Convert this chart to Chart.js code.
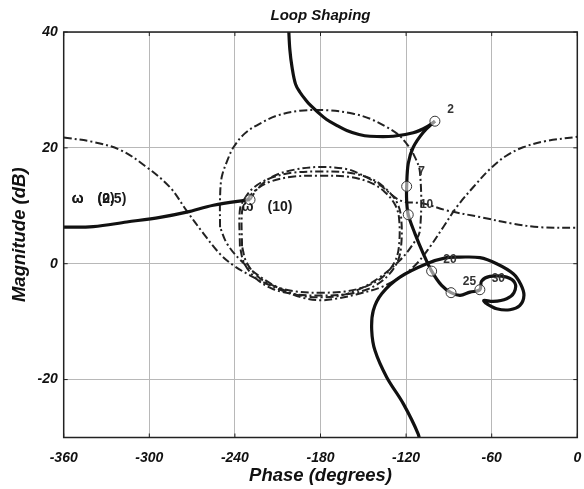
<!DOCTYPE html>
<html>
<head>
<meta charset="utf-8">
<script src="https://cdn.jsdelivr.net/npm/chart.js@4.4.1/dist/chart.umd.min.js"></script>
<style>
  html, body { margin: 0; padding: 0; background: #fff; }
</style>
</head>
<body>
<canvas id="nichols" width="584" height="489"></canvas>
<script>
// axis ticks
const phaseTicks = [-360, -300, -240, -180, -120, -60, 0];
const magTicks = [-20, 0, 20, 40];

// open loop, low frequency branch (left)
const lowPhase = [-360, -339.3, -315.8, -292.5, -273.8, -255.1, -229.4];
const lowMag = [6.3, 6.4, 7.2, 8.0, 8.9, 10.1, 11.05];

// open loop, from the top down to marker "2"
const topPhase = [-202.3, -201.5, -200, -197.5, -194.4, -190.5, -187.3, -182, -175.7, -168, -161.6, -153, -145.3, -129.0, -115.0, -105.6, -99.8];
const topMag = [40.5, 37, 34, 31, 29.6, 28.3, 27.4, 26.2, 24.9, 23.8, 23.0, 22.3, 22.0, 22.0, 22.6, 23.6, 24.6];

// open loop, from marker "2" through the loops to the bottom
const highPhase = [-99.8, -107.9, -115.0, -118.5, -119.6, -119.6, -118.5, -113.8, -107.9, -102.1, -95.1, -88.5, -82.2, -75.2, -68.3,
  -67.1, -61.3, -49.5, -43.7, -44.4, -49.5, -58.9, -65.5, -63.5, -56.5, -47.3, -40.2, -37.4, -39.6, -44.9, -56.5, -68.3, -82.2,
  -91.6, -105.6, -124.3, -137.1, -143.0, -144.1, -141.8, -133.6, -121.9, -111.5, -110.3];
const highMag = [24.6, 22.7, 20.1, 17.3, 13.35, 10.9, 8.46, 5.2, 1.7, -1.28, -3.75, -5.0, -5.47, -4.9, -4.49,
  -3.0, -2.19, -2.31, -3.35, -5.01, -6.04, -6.51, -6.34, -6.9, -7.77, -7.94, -7.2, -5.47, -3.58, -1.73, 0, 1.04, 1.14,
  1.04, 0, -2.31, -5.18, -8.07, -11.5, -15.0, -19.6, -24.2, -29.4, -31];

// frequency markers
const markPhase = [-99.8, -119.6, -118.5, -102.1, -88.5, -68.3, -229.4];
const markMag = [24.6, 13.35, 8.46, -1.28, -5.0, -4.49, 11.05];

// outer bound (open, both sides)
const boundPhase = [-360, -339, -320, -302, -285.5, -274, -262, -250.5, -241, -229.5, -217.5, -204, -192, -180,
  -168, -155, -138, -124, -112.6, -103.3, -94, -84.5, -73, -61, -50, -38, -21.5, 0];
const boundMag = [21.8, 21.0, 19.6, 16.7, 13.2, 9.2, 5.2, 1.7, -0.3, -2.0, -3.5, -4.9, -5.9, -6.3,
  -6.0, -5.3, -4.1, -2.3, 0, 2.9, 6.3, 9.8, 13.2, 16.4, 18.6, 20.1, 21.2, 21.9];

// large closed contour
const outerPhase = [-250.4, -250.4, -249.2, -245, -241, -233, -222.4, -210, -194.4, -176, -157, -145, -133.6, -125, -119.6, -115,
  -110.3, -110.3, -115, -124.3, -138.3, -152, -166, -180, -194, -208, -222, -236, -245.5, -250.4];
const outerMag = [6.3, 11.5, 15.0, 18.0, 20.1, 22.5, 24.2, 25.6, 26.4, 26.5, 25.9, 25.0, 23.6, 22.2, 20.7, 19.0,
  15.8, 5.75, 3.45, 0.6, -2.3, -4.3, -5.5, -5.8, -5.5, -4.3, -2.3, 0.6, 3.45, 6.3];

// inner closed contours
const in1Phase = [-235, -235, -232, -226, -216, -200, -180, -160, -145, -135, -128, -125, -125, -128, -136, -148, -163, -180, -197, -212, -224, -232, -235];
const in1Mag = [3.0, 9.0, 10.8, 12.6, 14.1, 15.0, 15.2, 15.0, 14.0, 12.4, 10.3, 8.0, 3.0, 0.3, -2.2, -3.9, -4.8, -5.0, -4.8, -3.9, -2.2, 0.3, 3.0];
const in2Phase = [-236.5, -236.5, -233, -227, -216, -200, -180, -160, -144, -134, -126.5, -123.5, -123.5, -126.5, -135, -147, -163, -180, -197, -213, -225, -233.5, -236.5];
const in2Mag = [3.0, 9.3, 11.3, 13.1, 14.7, 15.7, 15.9, 15.7, 14.6, 12.9, 10.6, 8.0, 3.0, 0.1, -2.6, -4.4, -5.3, -5.5, -5.3, -4.4, -2.6, 0.1, 3.0];

// open contour running off to the right
const in3Phase = [-229.4, -224, -214, -199, -180, -161, -150, -138, -124, -108, -91.5, -68, -45, -26, 0];
const in3Mag = [11.0, 13.0, 15.0, 16.2, 16.7, 16.3, 15.2, 13.5, 10.9, 10.4, 9.2, 8.05, 6.9, 6.3, 6.2];

// text labels
const labelText = ['2', '7', '10', '20', '25', '30', 'ω\u2002\u2002(0.5)', 'ω\u2002\u2002(2)', 'ω\u2002\u2002(10)'];
const labelPhase = [-91.2, -111.4, -110.3, -93.9, -80.3, -60, -354.4, -354.4, -235.2];
const labelMag = [26.6, 15.8, 10.2, 0.7, -3.06, -2.6, 11.2, 11.2, 9.7];
const labelBig = [false, false, false, false, false, false, true, true, true];

const FONT = "'Liberation Sans', Arial, sans-serif";

function pts(xs, ys) {
    return xs.map((x, i) => ({ x: x, y: ys[i] }));
}

function solid(xs, ys) {
    return {
        data: pts(xs, ys),
        showLine: true,
        borderColor: '#111',
        borderWidth: 3.2,
        pointRadius: 0,
        tension: 0.35,
        fill: false,
    };
}

function dashDot(xs, ys) {
    return {
        data: pts(xs, ys),
        showLine: true,
        borderColor: '#222',
        borderWidth: 2,
        borderDash: [8, 3, 2, 3],
        pointRadius: 0,
        tension: 0.35,
        fill: false,
    };
}

// box with little inward ticks
const frame = {
    id: 'frame',
    afterDatasetsDraw(chart) {
        const { ctx, chartArea: a, scales } = chart;
        ctx.save();
        ctx.strokeStyle = '#222';
        ctx.lineWidth = 1.5;
        ctx.strokeRect(a.left, a.top, a.right - a.left, a.bottom - a.top);
        ctx.lineWidth = 1;
        ctx.beginPath();
        phaseTicks.forEach(v => {
            const x = scales.x.getPixelForValue(v);
            ctx.moveTo(x, a.top); ctx.lineTo(x, a.top + 4);
            ctx.moveTo(x, a.bottom); ctx.lineTo(x, a.bottom - 4);
        });
        magTicks.forEach(v => {
            const y = scales.y.getPixelForValue(v);
            ctx.moveTo(a.left, y); ctx.lineTo(a.left + 4, y);
            ctx.moveTo(a.right, y); ctx.lineTo(a.right - 4, y);
        });
        ctx.stroke();
        ctx.restore();
    }
};

// frequency labels
const freqLabels = {
    id: 'freqLabels',
    afterDatasetsDraw(chart) {
        const { ctx, scales } = chart;
        ctx.save();
        ctx.textAlign = 'left';
        ctx.textBaseline = 'middle';
        labelText.forEach((t, i) => {
            ctx.font = labelBig[i] ? `bold 14px ${FONT}` : `bold 12px ${FONT}`;
            ctx.fillStyle = labelBig[i] ? '#1a1a1a' : '#333';
            ctx.fillText(t, scales.x.getPixelForValue(labelPhase[i]), scales.y.getPixelForValue(labelMag[i]));
        });
        ctx.restore();
    }
};

const markers = {
    data: pts(markPhase, markMag),
    showLine: false,
    pointStyle: 'circle',
    pointRadius: 5,
    pointBorderWidth: 1,
    pointBorderColor: '#333',
    pointBackgroundColor: 'rgba(255,255,255,0.55)',
};

new Chart(document.getElementById('nichols'), {
    type: 'scatter',
    data: {
        datasets: [
            markers,
            solid(highPhase, highMag),
            solid(topPhase, topMag),
            solid(lowPhase, lowMag),
            dashDot(outerPhase, outerMag),
            dashDot(in1Phase, in1Mag),
            dashDot(in2Phase, in2Mag),
            dashDot(in3Phase, in3Mag),
            dashDot(boundPhase, boundMag),
        ],
    },
    options: {
        responsive: false,
        animation: false,
        devicePixelRatio: 1,
        layout: { padding: { left: 0, right: 6.7, top: 0, bottom: 0 } },
        plugins: {
            legend: { display: false },
            tooltip: { enabled: false },
            title: {
                display: true,
                fullSize: false,
                text: 'Loop Shaping',
                color: '#111',
                font: { family: FONT, size: 15, weight: 'bold', style: 'italic' },
                padding: { top: 7, bottom: 7 },
            },
        },
        scales: {
            x: {
                type: 'linear',
                min: -360,
                max: 0,
                afterBuildTicks: s => { s.ticks = phaseTicks.map(v => ({ value: v })); },
                afterFit: s => { s.height = 51.5; s.paddingLeft = 0; s.paddingRight = 0; },
                grid: { color: '#b8b8b8', lineWidth: 1, drawTicks: false },
                border: { display: false },
                ticks: {
                    color: '#111',
                    padding: 12,
                    maxRotation: 0,
                    font: { family: FONT, size: 14, weight: 'bold', style: 'italic' },
                },
                title: {
                    display: true,
                    text: 'Phase (degrees)',
                    color: '#111',
                    font: { family: FONT, size: 18.5, weight: 'bold', style: 'italic' },
                    padding: { top: 0, bottom: 2 },
                },
            },
            y: {
                type: 'linear',
                min: -30,
                max: 40,
                afterBuildTicks: s => { s.ticks = magTicks.map(v => ({ value: v })); },
                afterFit: s => { s.width = 63.7; s.paddingTop = 0; s.paddingBottom = 0; },
                grid: { color: '#b8b8b8', lineWidth: 1, drawTicks: false },
                border: { display: false },
                ticks: {
                    color: '#111',
                    padding: 6,
                    font: { family: FONT, size: 14, weight: 'bold', style: 'italic' },
                },
                title: {
                    display: true,
                    text: 'Magnitude (dB)',
                    color: '#111',
                    font: { family: FONT, size: 18.5, weight: 'bold', style: 'italic' },
                    padding: { top: 9, bottom: 0 },
                },
            },
        },
    },
    plugins: [frame, freqLabels],
});
</script>
</body>
</html>
